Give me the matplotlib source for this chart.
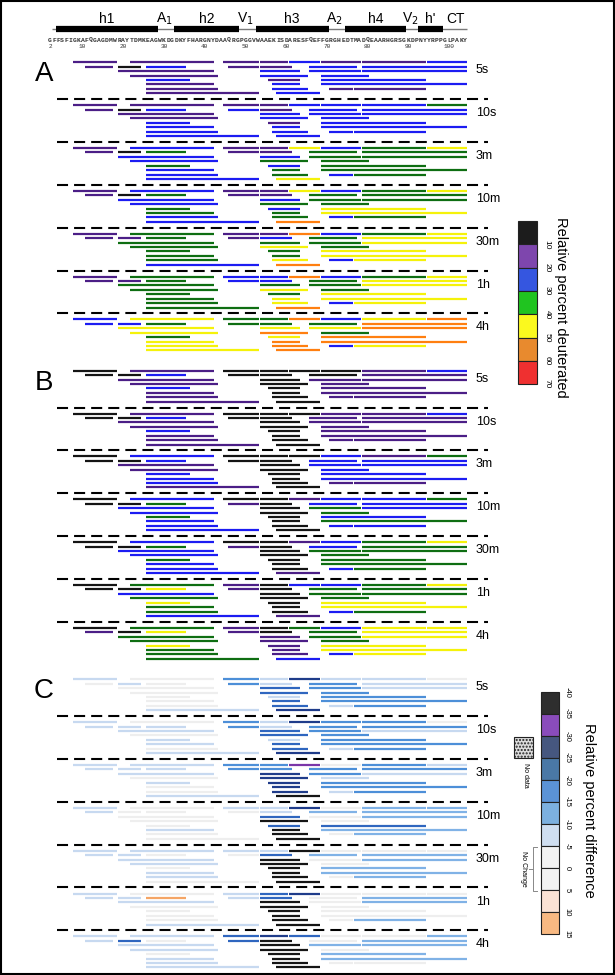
import matplotlib
matplotlib.use("Agg")
import matplotlib.pyplot as plt
from matplotlib.patches import Rectangle

plt.rcParams['font.family'] = ['Liberation Sans', 'DejaVu Sans']

sequence = "GFFSFIGKAFQGAGDMWRAYTDMKEAGWKDGDKYFHARGNYDAAQRGPGGVWAAEKISDARESFQEFFGRGHEDTMADQEAARHGRSGKDPNYYRPPGLPAKY"
first_residue = 2
ruler_ticks = [2, 10, 20, 30, 40, 50, 60, 70, 80, 90, 100]

helix_names = ['h1', 'h2', 'h3', 'h4', "h'"]
helix_start = [4, 33, 53, 75, 93]
helix_end = [28, 48, 70, 89, 98]
loop_names = ['A$_1$', 'V$_1$', 'A$_2$', 'V$_2$', 'CT']
loop_pos = [30.7, 50.4, 72.3, 91.0, 102.0]

time_points = ['5s', '10s', '3m', '10m', '30m', '1h', '4h']

# peptides (row in the coverage map, first and last residue)
pep_row = [0] * 8 + [1] * 7 + [2] * 4 + [3] * 3 + [4] * 3 + [5] * 3 + [6] * 4 + [7] * 2
pep_start = [8, 22, 45, 54, 61, 69, 79, 95,
             11, 19, 26, 46, 54, 66, 79,
             19, 54, 66, 79,
             22, 54, 69,
             26, 56, 69,
             26, 57, 69,
             26, 57, 71, 77,
             26, 58]
pep_end = [18, 42, 53, 60, 68, 78, 94, 104,
           17, 24, 35, 53, 61, 77, 104,
           42, 63, 78, 104,
           43, 65, 80,
           36, 63, 94,
           42, 63, 104,
           43, 65, 76, 94,
           53, 68]

# relative percent deuterated, k<10 p10-20 b20-30 g30-40 y40-50 o50-60 r60-70
deut_A = ["ppppbppb pkbppbb pbbb pbb bpb pbb pbpp pb",
          "ppppbbbg pkbbpbb pbbb pbb bpb bbb bbbb bb",
          "pbppybgy pkgppgg bbgg bgg gbg bgg bgbg by",
          "pbppybgy pkgppgg bbgg bgg gby ggy bgbg bo",
          "pgppobgy ppgpbgy gggy gyg ggy ggy gyby bo",
          "pgbbobgy ppgbbgy gggy gyg ggy gyy gyby go",
          "byggobyo bbggggo yyyo yog gyo yoo yoby yo"]
deut_B = ["kpkkkkpb kkbkkkp pkpp pkp bkp pkp pkpp pk",
          "kpkkkppb kkbkkpp pkpp pkp bkp pkp pkpp pk",
          "kbkkkbpg kkbkkbb pkbb pkb bkb bkb bkpp pk",
          "kbkkpbbg kkgpkbb bkgb bkg gkb bkg bkbb bk",
          "kbkkpbgy kkgpkbg bkgg bkg gkg bkg bkbg bp",
          "kgpkbbgy kkypkgg bkgg gkg yky gky gkbg bp",
          "kgpkgbyy pkypkgy gpgy gpg ypy gpy gpby gb"]
# relative percent difference bin index (0: -40..-35 ... a: 10..15)
diff_C = ["67462667 7674646 7346 734 764 734 7364 62",
          "67462447 6664644 6346 734 664 634 7364 62",
          "66441746 6664444 6246 726 624 724 7264 60",
          "67662755 6777655 7375 707 733 605 7075 70",
          "66660777 6677355 6075 607 705 605 6075 70",
          "67632777 66a6375 6075 707 807 707 7075 60",
          "66323775 6383075 6055 607 805 605 6077 60"]

deut_ticks = [10, 20, 30, 40, 50, 60, 70]
deut_bar = {'k': '#141414', 'p': '#4b1e86', 'b': '#1c1cf2', 'g': '#0e6e12',
            'y': '#f5f20a', 'o': '#ff7f10', 'r': '#f02020'}
deut_key = ['#1c1c1c', '#7e46ad', '#3556e0', '#20c420', '#fbf91e', '#e88a2e', '#ef3030']

diff_ticks = [-40, -35, -30, -25, -20, -15, -10, -5, 0, 5, 10, 15]
diff_bar = ['#151515', '#7a35a8', '#1f3c8a', '#2f66bf', '#4d8fd8', '#80b2e6',
            '#c7d9f0', '#eeeeee', '#eeeeee', '#fbdccb', '#f5a565']
diff_key = ['#2e2e2e', '#8a4cbb', '#46577f', '#4a78a6', '#5b93d6', '#7cb0df',
            '#cfdef0', '#f2f2f2', '#f2f2f2', '#fbe3d5', '#f8b982']

W, H = 615, 975
px_per_res = 4.07
x0_px = 48.0
panel_y0 = [62.3, 370.7, 679.3]
block_pitch = 42.85
row_pitch = 4.43
gap = 0.12

fig = plt.figure(figsize=(W / 100, H / 100), dpi=100)
ax = fig.add_axes([0, 0, 1, 1])
ax.set_xlim(first_residue - x0_px / px_per_res, first_residue + (W - x0_px) / px_per_res)
ax.set_ylim(H, 0)
ax.axis('off')
ov = fig.add_axes([0, 0, 1, 1])
ov.set_xlim(0, W)
ov.set_ylim(H, 0)
ov.axis('off')

# secondary structure and sequence
ax.hlines(29, first_residue + 1, first_residue + len(sequence), color='#7a7a7a', lw=1.0)
ax.hlines([29] * len(helix_start), helix_start, [e + 1 for e in helix_end], color='black', lw=4.5)
for name, s, e in zip(helix_names, helix_start, helix_end):
    ax.text((s + e + 1) / 2, 19, name, ha='center', va='center', fontsize=10)
for name, p in zip(loop_names, loop_pos):
    ax.text(p, 19, name, ha='center', va='center', fontsize=10)
for i, aa in enumerate(sequence):
    ax.text(first_residue + i + 0.5, 40, aa, ha='center', va='center', fontsize=4.6,
            family='Liberation Mono', fontweight='bold', color='#333333')
for t in ruler_ticks:
    ax.text(t + 0.5, 46.5, str(t), ha='center', va='center', fontsize=4.4,
            family='Liberation Mono', color='#333333')


def draw_panel(y0, codes, colour_of):
    ys, x1, x2, cs = [], [], [], []
    for t, code in enumerate(codes):
        code = code.replace(' ', '')
        for i in range(len(pep_start)):
            ys.append(y0 + t * block_pitch + pep_row[i] * row_pitch)
            x1.append(pep_start[i] + gap)
            x2.append(pep_end[i] + 1 - gap)
            cs.append(colour_of(code[i]))
    ax.hlines(ys, x1, x2, colors=cs, lw=1.6)
    for t, label in enumerate(time_points):
        yb = y0 + t * block_pitch
        ov.text(476, yb + 8, label, ha='left', va='center', fontsize=9)
        if t < len(time_points) - 1:
            ov.plot([57, 488], [yb + 36.8, yb + 36.8], color='black', lw=1.5,
                    ls=(0, (5.3, 2.9)))


draw_panel(panel_y0[0], deut_A, lambda c: deut_bar[c])
draw_panel(panel_y0[1], deut_B, lambda c: deut_bar[c])
draw_panel(panel_y0[2], diff_C, lambda c: diff_bar[int(c, 16)])

for letter, y0 in zip('ABC', panel_y0):
    ov.text(44, y0 + 12, letter, ha='center', va='center', fontsize=20)

# deuteration key
for i, col in enumerate(deut_key):
    ov.add_patch(Rectangle((518, 221 + i * 23.3), 19, 23.3, facecolor=col,
                           edgecolor='#222222', lw=0.8))
for i, v in enumerate(deut_ticks):
    ov.text(547, 221 + (i + 1) * 23.3, str(v), rotation=-90, ha='center', va='center', fontsize=6)
ov.text(561, 217, 'Relative percent deuterated', rotation=-90, ha='center', va='top',
        fontsize=10.5)

# difference key
for i, col in enumerate(diff_key):
    ov.add_patch(Rectangle((541, 692 + i * 22), 18, 22, facecolor=col,
                           edgecolor='#222222', lw=0.8))
for i, v in enumerate(diff_ticks):
    ov.text(567, 692 + i * 22, str(v), rotation=-90, ha='center', va='center', fontsize=5.5)
ov.text(589, 723, 'Relative percent difference', rotation=-90, ha='center', va='top',
        fontsize=10.5)
ov.add_patch(Rectangle((514, 737), 19, 21, facecolor='#dcdcdc', edgecolor='#222222',
                       lw=0.8, hatch='.....'))
ov.text(525, 763, 'No data', rotation=-90, ha='center', va='top', fontsize=5)
ov.plot([537, 533, 533, 537], [847, 847, 891, 891], color='#888888', lw=0.7)
ov.plot([533, 529], [869, 869], color='#888888', lw=0.7)
ov.text(523, 869, 'No Change', rotation=-90, ha='center', va='center', fontsize=5)

ov.add_patch(Rectangle((1, 1), W - 2, H - 2, fill=False, edgecolor='black', lw=1.5))

fig.savefig('out.png', dpi=100)
